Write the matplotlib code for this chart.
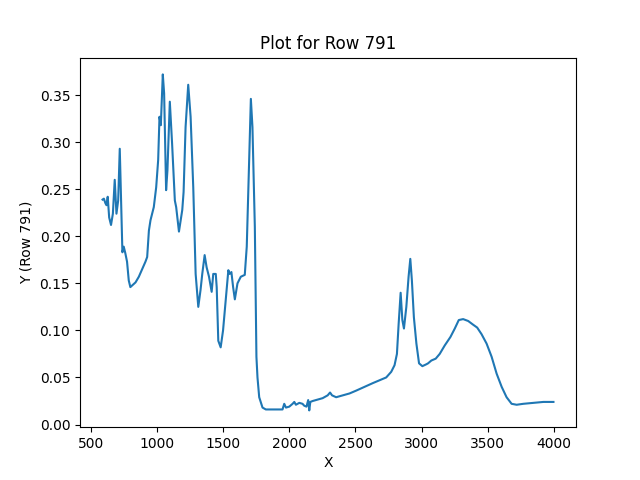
import matplotlib
matplotlib.use("Agg")
import matplotlib.pyplot as plt

# wavenumber-like x values and absorbance
x_vals = [590, 600, 612, 620, 629, 640, 654, 668, 682, 695, 708, 720, 732, 740,
          750, 762, 775, 788, 800, 839, 864, 889, 914, 927, 940, 952, 977, 995,
          1010, 1020, 1030, 1045, 1055, 1070, 1080, 1098, 1115, 1136, 1146, 1167,
          1180, 1192, 1202, 1217, 1237, 1255, 1275, 1293, 1313, 1330, 1343, 1361,
          1376, 1394, 1414, 1426, 1445, 1452, 1464, 1482, 1500, 1520, 1540, 1550,
          1563, 1576, 1589, 1609, 1634, 1664, 1679, 1697, 1710, 1722, 1740, 1752,
          1760, 1773, 1798, 1823, 1900, 1949, 1962, 1975, 2000, 2025, 2038, 2050,
          2076, 2100, 2113, 2130, 2143, 2151, 2159, 2177, 2202, 2252, 2290, 2308,
          2323, 2354, 2405, 2455, 2505, 2568, 2631, 2682, 2732, 2770, 2795, 2813,
          2826, 2841, 2854, 2866, 2884, 2901, 2914, 2926, 2941, 2960, 2980, 3005,
          3035, 3048, 3073, 3106, 3136, 3174, 3217, 3250, 3280, 3313, 3351, 3389,
          3419, 3452, 3490, 3528, 3566, 3604, 3641, 3679, 3717, 3767, 3843, 3919,
          3995]
y_vals = [0.239, 0.240, 0.235, 0.233, 0.242, 0.220, 0.212, 0.224, 0.260, 0.224,
          0.238, 0.293, 0.228, 0.183, 0.189, 0.182, 0.173, 0.153, 0.146, 0.151,
          0.157, 0.165, 0.173, 0.178, 0.206, 0.217, 0.231, 0.252, 0.281, 0.327,
          0.318, 0.372, 0.352, 0.249, 0.270, 0.343, 0.299, 0.238, 0.231, 0.205,
          0.217, 0.228, 0.247, 0.316, 0.361, 0.327, 0.252, 0.160, 0.125, 0.143,
          0.160, 0.180, 0.167, 0.157, 0.141, 0.160, 0.160, 0.146, 0.089, 0.082,
          0.100, 0.132, 0.164, 0.160, 0.162, 0.146, 0.133, 0.150, 0.157, 0.159,
          0.189, 0.281, 0.346, 0.316, 0.210, 0.072, 0.050, 0.029, 0.018, 0.016,
          0.016, 0.016, 0.022, 0.018, 0.019, 0.022, 0.024, 0.021, 0.023, 0.022,
          0.020, 0.019, 0.026, 0.015, 0.024, 0.025, 0.026, 0.028, 0.031, 0.034,
          0.031, 0.029, 0.031, 0.033, 0.036, 0.040, 0.044, 0.047, 0.050, 0.056,
          0.063, 0.075, 0.107, 0.140, 0.111, 0.102, 0.125, 0.157, 0.176, 0.153,
          0.114, 0.086, 0.065, 0.062, 0.064, 0.065, 0.068, 0.070, 0.075, 0.084,
          0.093, 0.102, 0.111, 0.112, 0.110, 0.106, 0.103, 0.096, 0.086, 0.072,
          0.054, 0.040, 0.029, 0.022, 0.021, 0.022, 0.023, 0.024, 0.024]

fig, ax = plt.subplots(figsize=(6.4, 4.8), dpi=100)
ax.plot(x_vals, y_vals, color="#1f77b4")
ax.set_title("Plot for Row 791")
ax.set_xlabel("X")
ax.set_ylabel("Y (Row 791)")
fig.savefig("out.png")
